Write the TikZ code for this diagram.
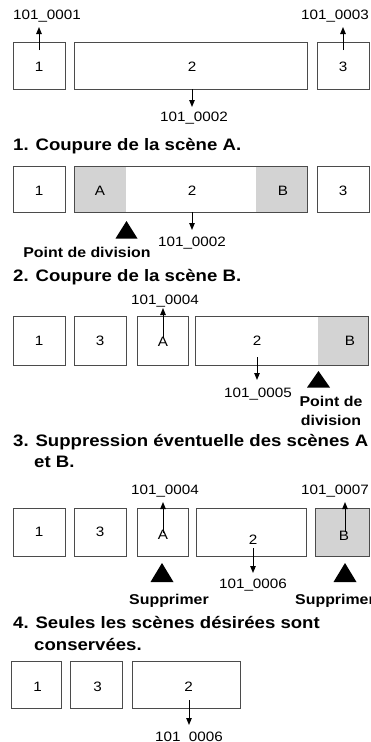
\documentclass[tikz,border=0pt]{standalone}
\usepackage{fontspec}
\setmainfont{Liberation Sans}[FakeStretch=1.12]
\usetikzlibrary{arrows.meta}
\definecolor{shadegray}{RGB}{211,211,211}
\definecolor{framegray}{RGB}{75,75,75}
\tikzset{
  bx/.style={draw=framegray, line width=0.9pt, inner sep=0pt},
  shd/.style={fill=shadegray},
  chr/.style={font=\fontsize{13.6}{15}\selectfont, inner sep=0pt},
  num/.style={font=\fontsize{13.6}{15}\selectfont, inner sep=0pt, anchor=base},
  ttl/.style={font=\bfseries\fontsize{16.6}{21}\selectfont, inner sep=0pt, anchor=base west},
  note/.style={font=\bfseries\fontsize{14.2}{18}\selectfont, inner sep=0pt, anchor=base},
  ptr/.style={-{Triangle[length=7pt,width=5.5pt]}, line width=1pt},
  tri/.style={fill=black},
}
\begin{document}
\begin{tikzpicture}[x=1pt,y=-1pt]
\useasboundingbox (0,0) rectangle (371,742);

% ---------- row 0 ----------
\node[bx, minimum width=52pt, minimum height=47pt] (r0b1) at (39,65.5) {};
\node[bx, minimum width=233pt, minimum height=47pt] (r0b2) at (190.5,65.5) {};
\node[bx, minimum width=52pt, minimum height=47pt] (r0b3) at (343,65.5) {};
\node[chr] (r0l1) at (39,67) {1};
\node[chr] (r0l2) at (192,67) {2};
\node[chr] (r0l3) at (343,67) {3};
\node[num] (r0n1) at (47,19.5) {101\_0001};
\node[num] (r0n3) at (335,19.5) {101\_0003};
\node[num] (r0n2) at (194,121.5) {101\_0002};
\coordinate (r0a1s) at (39,50); \coordinate (r0a1e) at (39,27);
\coordinate (r0a3s) at (343,50); \coordinate (r0a3e) at (343,27);
\coordinate (r0a2s) at (192,89); \coordinate (r0a2e) at (192,107);
\draw[ptr] (r0a1s) -- (r0a1e);
\draw[ptr] (r0a3s) -- (r0a3e);
\draw[ptr] (r0a2s) -- (r0a2e);

% ---------- step 1 ----------
\node[ttl] (t1) at (13,150) {1. Coupure de la scène A.};
\fill[shd] (74,166) rectangle (126,212);
\fill[shd] (256,166) rectangle (307,212);
\node[bx, minimum width=52pt, minimum height=46pt] (r1b1) at (39,189) {};
\node[bx, minimum width=233pt, minimum height=46pt] (r1b2) at (190.5,189) {};
\node[bx, minimum width=52pt, minimum height=46pt] (r1b3) at (343,189) {};
\node[chr] (r1l1) at (39,191) {1};
\node[chr] (r1lA) at (100,191) {A};
\node[chr] (r1l2) at (192,191) {2};
\node[chr] (r1lB) at (283,191) {B};
\node[chr] (r1l3) at (343,191) {3};
\fill[tri] (126.5,221) -- (137.5,238.5) -- (115.5,238.5) -- cycle;
\coordinate (r1a2s) at (192,212); \coordinate (r1a2e) at (192,230);
\draw[ptr] (r1a2s) -- (r1a2e);
\node[num] (r1n2) at (192,246.5) {101\_0002};
\node[note] (r1p) at (87,257) {Point de division};

% ---------- step 2 ----------
\node[ttl] (t2) at (13,281) {2. Coupure de la scène B.};
\fill[shd] (318,316) rectangle (368,365);
\node[bx, minimum width=52pt, minimum height=49pt] (r2b1) at (39,340.5) {};
\node[bx, minimum width=52pt, minimum height=49pt] (r2b3) at (100,340.5) {};
\node[bx, minimum width=51pt, minimum height=49pt] (r2bA) at (162.5,340.5) {};
\node[bx, minimum width=173pt, minimum height=49pt] (r2b2) at (281.5,340.5) {};
\node[chr] (r2l1) at (39,341) {1};
\node[chr] (r2l3) at (100,341) {3};
\node[chr] (r2lA) at (163,342) {A};
\node[chr] (r2l2) at (257,341) {2};
\node[chr] (r2lB) at (350,341) {B};
\node[num] (r2n4) at (165,304.5) {101\_0004};
\coordinate (r2a4s) at (163,338); \coordinate (r2a4e) at (163,308);
\draw[ptr] (r2a4s) -- (r2a4e);
\coordinate (r2a5s) at (257,357); \coordinate (r2a5e) at (257,380);
\draw[ptr] (r2a5s) -- (r2a5e);
\node[num] (r2n5) at (258,397.5) {101\_0005};
\fill[tri] (318.5,371) -- (330,387.5) -- (307,387.5) -- cycle;
\node[note] (r2p1) at (331,406) {Point de};
\node[note] (r2p2) at (331,425) {division};

% ---------- step 3 ----------
\node[ttl] (t3a) at (13,446) {3. Suppression éventuelle des scènes A};
\node[ttl] (t3b) at (34,467) {et B.};
\fill[shd] (315,508) rectangle (369,556);
\node[bx, minimum width=52pt, minimum height=48pt] (r3b1) at (39,532) {};
\node[bx, minimum width=52pt, minimum height=48pt] (r3b3) at (100,532) {};
\node[bx, minimum width=51pt, minimum height=48pt] (r3bA) at (162.5,532) {};
\node[bx, minimum width=110pt, minimum height=48pt] (r3b2) at (251,532) {};
\node[bx, minimum width=54pt, minimum height=48pt] (r3bB) at (342,532) {};
\node[chr] (r3l1) at (39,532) {1};
\node[chr] (r3l3) at (100,532) {3};
\node[chr] (r3lA) at (163,535) {A};
\node[chr] (r3l2) at (253,540) {2};
\node[chr] (r3lB) at (344,536) {B};
\node[num] (r3n4) at (165,494.5) {101\_0004};
\node[num] (r3n7) at (335,494.5) {101\_0007};
\coordinate (r3a4s) at (163,533); \coordinate (r3a4e) at (163,502);
\coordinate (r3a7s) at (345,532); \coordinate (r3a7e) at (345,502);
\coordinate (r3a6s) at (253,548); \coordinate (r3a6e) at (253,573);
\draw[ptr] (r3a4s) -- (r3a4e);
\draw[ptr] (r3a7s) -- (r3a7e);
\draw[ptr] (r3a6s) -- (r3a6e);
\node[num] (r3n6) at (253,588.5) {101\_0006};
\fill[tri] (162,563) -- (173.5,582) -- (150.5,582) -- cycle;
\fill[tri] (345,563) -- (356.5,582) -- (333.5,582) -- cycle;
\node[note] (r3s1) at (169,604) {Supprimer};
\node[note] (r3s2) at (335,604) {Supprimer};

% ---------- step 4 ----------
\node[ttl] (t4a) at (13,628) {4. Seules les scènes désirées sont};
\node[ttl] (t4b) at (34,650) {conservées.};
\node[bx, minimum width=50pt, minimum height=47pt] (r4b1) at (36,684.5) {};
\node[bx, minimum width=52pt, minimum height=47pt] (r4b3) at (96,684.5) {};
\node[bx, minimum width=108pt, minimum height=47pt] (r4b2) at (186,684.5) {};
\node[chr] (r4l1) at (37.5,687) {1};
\node[chr] (r4l3) at (97.5,687) {3};
\node[chr] (r4l2) at (188.5,687) {2};
\coordinate (r4a6s) at (189,700); \coordinate (r4a6e) at (189,725);
\draw[ptr] (r4a6s) -- (r4a6e);
\node[num] (r4n6) at (189,741) {101\_0006};
\end{tikzpicture}
\end{document}
